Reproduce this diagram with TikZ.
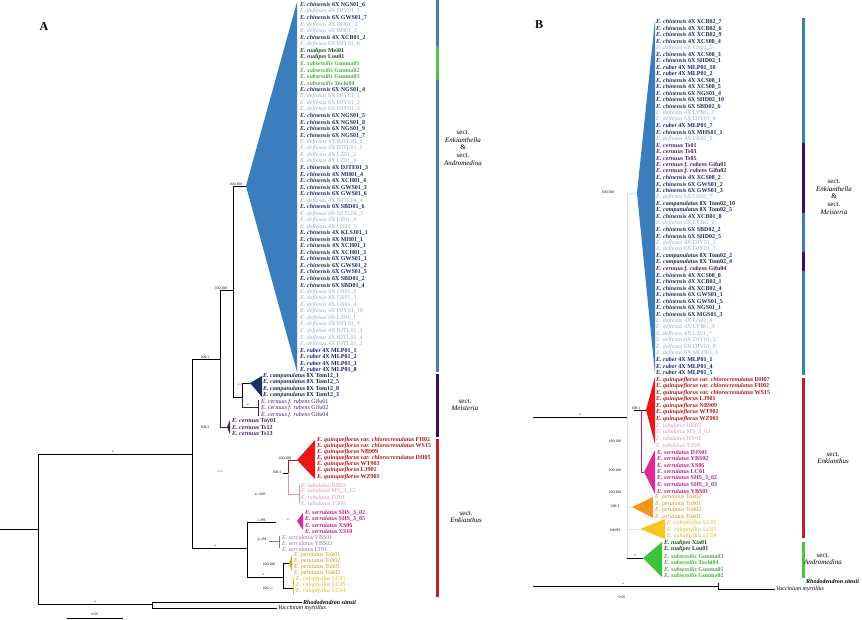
\documentclass[tikz,border=0pt]{standalone}
\usepackage{fontspec}
\setmainfont{Liberation Serif}
\usetikzlibrary{positioning}

% label colours
\definecolor{cnC}{RGB}{28,42,98}
\definecolor{dfC}{RGB}{150,172,200}
\definecolor{rbC}{RGB}{22,26,125}
\definecolor{ndC}{RGB}{25,75,25}
\definecolor{ssC}{RGB}{70,175,60}
\definecolor{ceC}{RGB}{60,28,105}
\definecolor{cpC}{RGB}{25,35,75}
\definecolor{qfC}{RGB}{175,20,25}
\definecolor{tbC}{RGB}{215,150,180}
\definecolor{srC}{RGB}{185,30,135}
\definecolor{slC}{RGB}{150,110,165}
\definecolor{peC}{RGB}{200,150,0}
\definecolor{poC}{RGB}{215,140,20}
\definecolor{caC}{RGB}{220,182,30}
% clade colours
\definecolor{blueT}{RGB}{58,126,189}
\definecolor{navyT}{RGB}{25,50,95}
\definecolor{redT}{RGB}{236,22,22}
\definecolor{magT}{RGB}{226,40,150}
\definecolor{goldT}{RGB}{215,170,30}
\definecolor{orT}{RGB}{245,150,30}
\definecolor{yeT}{RGB}{248,196,30}
\definecolor{grT}{RGB}{60,195,60}
% section bars
\definecolor{barB}{RGB}{64,128,168}
\definecolor{barG}{RGB}{85,190,70}
\definecolor{barP}{RGB}{55,15,100}
\definecolor{barR}{RGB}{190,30,40}

\newcommand{\enk}[2]{\textit{E.~#1}~#2}
\newcommand{\gcn}{\color{cnC}\bfseries}
\newcommand{\gdf}{\color{dfC}}
\newcommand{\grb}{\color{rbC}\bfseries}
\newcommand{\gnd}{\color{ndC}\bfseries}
\newcommand{\gss}{\color{ssC}\bfseries}
\newcommand{\gce}{\color{ceC}\bfseries}
\newcommand{\gcp}{\color{cpC}\bfseries}

\begin{document}
\begin{tikzpicture}[
  x=1pt, y=-1pt,
  taxon/.style={anchor=west, inner sep=0pt, font=\fontsize{6}{6}\selectfont},
  branch/.style={line width=0.7pt},
  faint/.style={line width=0.5pt, black!12},
  supp/.style={anchor=south, inner sep=0.4pt, font=\fontsize{3.8}{4}\selectfont},
  bar/.style={line width=3pt},
  sect/.style={align=center, font=\fontsize{7}{7.6}\selectfont},
  panel/.style={font=\fontsize{12}{12}\selectfont\bfseries}
]
\useasboundingbox (0,0) rectangle (862,619);

% Panel labels
\node[panel] (pA) at (44,27) {A};
\node[panel] (pB) at (539,25) {B};

%%%%%%%%%%%%%%%% Panel A %%%%%%%%%%%%%%%%

% Collapsed clades
\fill[blueT] (246,186) -- (297,2) -- (297,372) -- cycle;
\fill[navyT] (250,383) -- (262,376) -- (262,397) -- cycle;
\fill[ceC] (227,427) -- (230,420) -- (230,434) -- cycle;
\fill[redT] (297,460) -- (315,440) -- (315,479) -- cycle;
\fill[magT] (297,521) -- (303,513) -- (303,530) -- cycle;
\fill[goldT] (289,563) -- (292,555) -- (292,572) -- cycle;

% Tree nodes
\coordinate (aR) at (0,529);
\coordinate (a1) at (38,529);
\coordinate (a2) at (192,454);
\coordinate (aOg) at (152,604);
\coordinate (a3) at (220,359);
\coordinate (aE) at (247,548);
\coordinate (a4) at (233,290);
\coordinate (aCe) at (227,427);
\coordinate (aBl) at (246,186);
\coordinate (a5) at (242,397);
\coordinate (aCa) at (250,383);
\coordinate (aRu) at (258,407);
\coordinate (aSe) at (276,522);
\coordinate (aPe) at (283,577);
\coordinate (aPe1) at (289,563);
\coordinate (aCal) at (293,588);
\coordinate (aRh) at (302,602);
\coordinate (aVa) at (277,608);
\coordinate (aQs) at (283,473);
\coordinate (aQ) at (288,473);
\coordinate (aQr) at (297,460);
\coordinate (aQt) at (299,494);
\coordinate (aSl0) at (269,541);
\coordinate (aSl) at (279,541);

% Branches
\draw[branch] (aR) -- (a1);
\draw[branch] (a1) |- (a2);
\draw[branch] (a1) |- (aOg);
\draw[branch] (a2) |- (a3);
\draw[branch] (a2) |- (aE);
\draw[branch] (a3) |- (a4);
\draw[branch, ceC] (a3) |- (aCe);
\draw[branch] (a4) |- (aBl);
\draw[branch] (a4) |- (a5);
\draw[branch] (a5) |- (aCa);
\draw[branch, ceC] (a5) |- (aRu);
\draw[branch, ceC] (258,400) -- (258,416);
\draw[branch] (aE) |- (aSe);
\draw[branch] (aE) |- (aPe);
\draw[branch] (aPe) |- (aPe1);
\draw[branch] (aPe) |- (aCal);
\draw[branch, caC] (293,578) -- (293,594);
\draw[branch] (aOg) |- (aRh);
\draw[branch] (aOg) |- (aVa);
\draw[branch] (aQs) -- (aQ);
\draw[branch, qfC] (aQ) |- (aQr);
\draw[branch, tbC] (aQ) |- (aQt);
\draw[branch, tbC] (299,485) -- (299,503);
\draw[branch, slC] (aSl0) -- (aSl);
\draw[branch, slC] (aSl) ++(0,-5) -- ++(0,12);

% Support values
\node[supp] (sa1) at (113,454) {*};
\node[supp] (sa2) at (95,604) {*};
\node[supp] (sa3) at (205,359) {100/1};
\node[supp] (sa4) at (221,290) {100/100};
\node[supp] (sa5) at (236,186) {100/100};
\node[supp] (sa6) at (220,473) {-/-/-};
\node[supp] (sa7) at (205,429) {100/1};
\node[supp] (sa8) at (215,548) {*};
\node[supp] (sa9) at (240,386) {-/-/-};
\node[supp] (sa10) at (248,407) {*};
\node[supp] (sa11) at (285,460) {100/100};
\node[supp] (sa12) at (277,474) {100/1};
\node[supp] (sa13) at (260,496) {x/-/100};
\node[supp] (sa14) at (261,522) {-/-/99};
\node[supp] (sa15) at (288,522) {*};
\node[supp] (sa16) at (262,541) {x/-/94};
\node[supp] (sa17) at (269,566) {100/100};
\node[supp] (sa18) at (263,577) {*};
\node[supp] (sa19) at (268,590) {100/-/-};

% Scale bar
\draw[branch] (67,618) coordinate (sbA0) -- (123,618) coordinate (sbA1);
\node[supp] (sbA) at (95,616) {0.05};

% Taxa of the blue clade (top to bottom)
\foreach [count=\k] \cd/\st/\sn in {
  \gcn/chinensis/6X NGS01\_6, \gdf/deflexus/4X DJY01\_5, \gcn/chinensis/6X GWS01\_7,
  \gdf/deflexus/4X BH01\_3, \gdf/deflexus/4X BH01\_2, \gcn/chinensis/4X XCB01\_2,
  \gdf/deflexus/6X DJY01\_6, \gnd/nudipes/Mei01, \gnd/nudipes/Lou01,
  \gss/subsessilis/Gunma01, \gss/subsessilis/Gunma02, \gss/subsessilis/Gunma03,
  \gss/subsessilis/Tochi04, \gcn/chinensis/6X NGS01\_4, \gdf/deflexus/6X DJY01\_1,
  \gdf/deflexus/6X DJY01\_2, \gdf/deflexus/6X DJY01\_3, \gcn/chinensis/6X NGS01\_5,
  \gcn/chinensis/6X NGS01\_8, \gcn/chinensis/6X NGS01\_9, \gcn/chinensis/6X NGS01\_7,
  \gdf/deflexus/4X BJTL01\_1, \gdf/deflexus/4X BJTL01\_5, \gdf/deflexus/4X LZ01\_2,
  \gdf/deflexus/4X LZ01\_3, \gcn/chinensis/4X DJTE01\_3, \gcn/chinensis/4X MH01\_4,
  \gcn/chinensis/4X XCH01\_4, \gcn/chinensis/6X GWS01\_3, \gcn/chinensis/6X GWS01\_6,
  \gdf/deflexus/4X NJTL04\_4, \gcn/chinensis/6X SBD01\_6, \gdf/deflexus/4X NJTL04\_3,
  \gdf/deflexus/4X LZ01\_4, \gdf/deflexus/4X GS01\_1, \gcn/chinensis/4X KLSJ01\_1,
  \gcn/chinensis/4X MH01\_1, \gcn/chinensis/4X XCH01\_1, \gcn/chinensis/4X XCH01\_3,
  \gcn/chinensis/6X GWS01\_1, \gcn/chinensis/6X GWS01\_2, \gcn/chinensis/6X GWS01\_5,
  \gcn/chinensis/6X SBD01\_2, \gcn/chinensis/6X SBD01\_4, \gdf/deflexus/4X GS01\_2,
  \gdf/deflexus/4X GS01\_3, \gdf/deflexus/4X GS01\_4, \gdf/deflexus/4X DJY01\_10,
  \gdf/deflexus/4X LZ01\_1, \gdf/deflexus/4X DJY01\_9, \gdf/deflexus/4X BJTL01\_2,
  \gdf/deflexus/4X BJTL01\_4, \gdf/deflexus/4X BJTL01\_3, \grb/ruber/4X MLP01\_1,
  \grb/ruber/4X MLP01\_2, \grb/ruber/4X MLP01\_3, \grb/ruber/4X MLP01\_8}
  \node[taxon] (ab\k) at (300,{5+6.52*(\k-1)}) {\cd\enk{\st}{\sn}};

% Taxa of the small clades
\foreach [count=\k] \sn in {Tom12\_1, Tom12\_5, Tom12\_8, Tom12\_3}
  \node[taxon] (acp\k) at (263,{376+6.5*(\k-1)}) {\gcp\enk{campanulatus}{8X \sn}};
\foreach [count=\k] \sn in {Gifu01, Gifu02, Gifu04}
  \node[taxon] (aru\k) at (261,{402+6.3*(\k-1)}) {\color{ceC}\enk{cernuus f. rubens}{\sn}};
\foreach [count=\k] \sn in {Toy01, Ts12, Ts13}
  \node[taxon] (ace\k) at (232,{421+6.2*(\k-1)}) {\gce\enk{cernuus}{\sn}};
\foreach [count=\k] \st/\sn in {quinqueflorus var. chlorocrenulatus/FH02,
  quinqueflorus var. chlorocrenulatus/WS15, quinqueflorus/NB909,
  quinqueflorus var. chlorocrenulatus/DH05, quinqueflorus/WT903,
  quinqueflorus/LJ901, quinqueflorus/WZ901}
  \node[taxon] (aqf\k) at (317,{440+6.1*(\k-1)}) {\color{qfC}\bfseries\enk{\st}{\sn}};
\foreach [count=\k] \sn in {HB03, MS\_3\_12, DJ10, YS06}
  \node[taxon] (atb\k) at (301,{485+6*(\k-1)}) {\color{tbC}\enk{tubulatus}{\sn}};
\foreach [count=\k] \sn in {SHS\_3\_02, SHS\_3\_05, XS06, XS10}
  \node[taxon] (asr\k) at (305,{513+6*(\k-1)}) {\color{srC}\bfseries\enk{serrulatus}{\sn}};
\foreach [count=\k] \sn in {YBS01, YBS02, LT01}
  \node[taxon] (asl\k) at (282,{537+6.3*(\k-1)}) {\color{slC}\enk{serrulatus}{\sn}};
\foreach [count=\k] \sn in {Tok01, Toh02, Toh01, Tok02}
  \node[taxon] (ape\k) at (294,{555+6*(\k-1)}) {\color{peC}\enk{perulatus}{\sn}};
\foreach [count=\k] \sn in {LC01, LC05, LC04}
  \node[taxon] (aca\k) at (296,{579+6*(\k-1)}) {\color{caC}\enk{calophyllus}{\sn}};

% Outgroups
\node[taxon, right=1pt of aRh] (aRhT) {\bfseries\textit{Rhododendron simsii}};
\node[taxon, right=1pt of aVa] (aVaT) {\textit{Vaccinium myrtillus}};

% Section bars
\draw[bar, barB] (437,0) coordinate (ba0) -- (437,46) coordinate (ba1);
\draw[bar, barG] (ba1) -- (437,80) coordinate (ba2);
\draw[bar, barB] (ba2) -- (437,372) coordinate (ba3);
\draw[bar, barP] (437,374) coordinate (ba4) -- (437,437) coordinate (ba5);
\draw[bar, barR] (437,439) coordinate (ba6) -- (437,597) coordinate (ba7);

\node[sect] (secA1) at (463,148) {sect.\\\textit{Enkianthella}\\\&\\sect.\\\textit{Andromedina}};
\node[sect] (secA2) at (465,405) {sect.\\\textit{Meisteria}};
\node[sect] (secA3) at (466,517) {sect.\\\textit{Enkianthus}};

%%%%%%%%%%%%%%%% Panel B %%%%%%%%%%%%%%%%

% Collapsed clades
\fill[blueT] (637,193) -- (655,20) -- (655,374) -- cycle;
\fill[redT] (646,410) -- (655,377) -- (655,444) -- cycle;
\fill[magT] (644,472) -- (655,450) -- (655,494) -- cycle;
\fill[orT] (632,507) -- (653,497) -- (653,518) -- cycle;
\fill[yeT] (640,529) -- (665,519) -- (665,539) -- cycle;
\fill[grT] (643,558) -- (662,542) -- (662,577) -- cycle;

% Tree nodes
\coordinate (bR) at (533,417);
\coordinate (bI) at (627,417);
\coordinate (bOr) at (533,586);
\coordinate (bO) at (718,586);
\coordinate (bVa) at (775,589);
\coordinate (bBl) at (637,193);
\coordinate (bGr0) at (627,558);
\coordinate (bGr) at (643,558);
\coordinate (bM) at (641,410);
\coordinate (bQs) at (634,410);
\coordinate (bQ) at (646,410);
\coordinate (bS) at (644,472);
\coordinate (bPe) at (632,507);
\coordinate (bCa) at (640,529);

% Branches
\draw[faint] (bI) |- (bBl);
\draw[faint] (bI) -- (bGr0);
\draw[faint] (627,507) -- (bPe);
\draw[faint] (627,529) -- (bCa);
\draw[branch] (bR) -- (bI);
\draw[branch] (bOr) -- (bO);
\draw[branch] (bO) |- (bVa);
\draw[branch] (bO) -- ++(0,-3);
\draw[branch] (bGr0) -- (bGr);
\draw[branch] (bQs) -- (bQ);
\draw[branch, srC] (bM) |- (bS);

% Support values
\node[supp] (sb1) at (608,194) {100/100};
\node[supp] (sb2) at (580,417) {*};
\node[supp] (sb3) at (636,410) {100/1};
\node[supp] (sb4) at (615,443) {100/100};
\node[supp] (sb5) at (615,472) {100/100};
\node[supp] (sb6) at (615,494) {100/100};
\node[supp] (sb7) at (615,508) {100/1};
\node[supp] (sb8) at (615,532) {100/99};
\node[supp] (sb9) at (635,558) {*};
\node[supp] (sb10) at (623,586) {*};
\node[supp] (sbB) at (622,599) {0.05};

% Taxa of the blue clade (top to bottom)
\foreach [count=\k] \cd/\st/\sn in {
  \gcn/chinensis/4X XCB02\_7, \gcn/chinensis/4X XCB02\_6, \gcn/chinensis/4X XCB02\_9,
  \gcn/chinensis/4X XCS08\_4, \gdf/deflexus/4X GS01\_5, \gcn/chinensis/4X XCS08\_3,
  \gcn/chinensis/6X SHD02\_1, \grb/ruber/4X MLP01\_10, \grb/ruber/4X MLP01\_2,
  \gcn/chinensis/4X XCS08\_1, \gcn/chinensis/4X XCS08\_5, \gcn/chinensis/6X NGS01\_4,
  \gcn/chinensis/6X SHD02\_10, \gcn/chinensis/6X SBD02\_6, \gdf/deflexus/4X LYBG\_1,
  \gdf/deflexus/6X DJY01\_4, \grb/ruber/4X MLP01\_7, \gcn/chinensis/6X MHS01\_1,
  \gdf/deflexus/4X GS01\_6, \gce/cernuus/Ts01, \gce/cernuus/Ts03,
  \gce/cernuus/Ts05, \gce/cernuus f. rubens/Gifu01, \gce/cernuus f. rubens/Gifu02,
  \gcn/chinensis/4X XCS08\_2, \gcn/chinensis/6X GWS01\_2, \gcn/chinensis/6X GWS01\_3,
  \gdf/deflexus/6X GS01\_7, \gcp/campanulatus/8X Tom02\_10, \gcp/campanulatus/8X Tom02\_5,
  \gcn/chinensis/4X XCB01\_8, \gdf/deflexus/4X LYBG\_2, \gcn/chinensis/6X SBD02\_2,
  \gcn/chinensis/6X SHD02\_5, \gdf/deflexus/4X DJY01\_1, \gdf/deflexus/6X DJY01\_7,
  \gcp/campanulatus/8X Tom02\_2, \gcp/campanulatus/8X Tom02\_4, \gce/cernuus f. rubens/Gifu04,
  \gcn/chinensis/4X XCS08\_8, \gcn/chinensis/4X XCB02\_1, \gcn/chinensis/4X XCB02\_4,
  \gcn/chinensis/6X GWS01\_1, \gcn/chinensis/6X GWS01\_5, \gcn/chinensis/6X NGS01\_1,
  \gcn/chinensis/6X MGS01\_3, \gdf/deflexus/4X GS01\_4, \gdf/deflexus/4X LYBG\_3,
  \gdf/deflexus/4X LZ01\_7, \gdf/deflexus/6X DJY01\_5, \gdf/deflexus/6X DJY01\_8,
  \gdf/deflexus/6X MLH01\_1, \grb/ruber/4X MLP01\_1, \grb/ruber/4X MLP01\_4,
  \grb/ruber/4X MLP01\_5}
  \node[taxon] (bb\k) at (656,{22+6.5*(\k-1)}) {\cd\enk{\st}{\sn}};

% Taxa of the coloured clades
\foreach [count=\k] \st/\sn in {quinqueflorus var. chlorocrenulatus/DH07,
  quinqueflorus var. chlorocrenulatus/FH02, quinqueflorus var. chlorocrenulatus/WS15,
  quinqueflorus/LJ901, quinqueflorus/NB909, quinqueflorus/WT902, quinqueflorus/WZ901}
  \node[taxon] (bqf\k) at (656,{380+6.5*(\k-1)}) {\color{qfC}\bfseries\enk{\st}{\sn}};
\foreach [count=\k] \sn in {HB03, MS\_3\_02, HY01, YZ06}
  \node[taxon] (btb\k) at (656,{425.5+6.5*(\k-1)}) {\color{tbC}\enk{tubulatus}{\sn}};
\foreach [count=\k] \sn in {DJS01, YBS02, XS06, LC01, SHS\_3\_02, SHS\_3\_03, YBS01}
  \node[taxon] (bsr\k) at (657,{452+6.5*(\k-1)}) {\color{srC}\bfseries\enk{serrulatus}{\sn}};
\foreach [count=\k] \sn in {Tok02, Toh01, Toh02, Tok01}
  \node[taxon] (bpe\k) at (655,{497.5+6.5*(\k-1)}) {\color{poC}\enk{perulatus}{\sn}};
\foreach [count=\k] \sn in {LC01, LC05, LC04}
  \node[taxon] (bca\k) at (667,{523.5+6.5*(\k-1)}) {\color{caC}\enk{calophyllus}{\sn}};
\foreach [count=\k] \cd/\st/\sn in {\gnd/nudipes/Xia01, \gnd/nudipes/Lou01,
  \gss/subsessilis/Gunma03, \gss/subsessilis/Tochi04, \gss/subsessilis/Gunma01,
  \gss/subsessilis/Gunma02}
  \node[taxon] (bss\k) at (664,{543+6.5*(\k-1)}) {\cd\enk{\st}{\sn}};

% Outgroups
\node[taxon, right=1pt of bVa] (bVaT) {\textit{Vaccinium myrtillus}};
\node[taxon] (bRhT) at (806,581) {\bfseries\textit{Rhododendron simsii}};

% Section bars
\draw[bar, barB] (803,18) coordinate (bb0) -- (803,143) coordinate (bbar1);
\draw[bar, barP] (bbar1) -- (803,213) coordinate (bbar2);
\draw[bar, barB] (bbar2) -- (803,252) coordinate (bbar3);
\draw[bar, barP] (bbar3) -- (803,271) coordinate (bbar4);
\draw[bar, barB] (bbar4) -- (803,375) coordinate (bbar5);
\draw[bar, barR] (803,378) coordinate (bbar6) -- (803,538) coordinate (bbar7);
\draw[bar, barG] (803,542) coordinate (bbar8) -- (803,578) coordinate (bbar9);

\node[sect] (secB1) at (834,197) {sect.\\\textit{Enkianthella}\\\&\\sect.\\\textit{Meisteria}};
\node[sect] (secB2) at (833,458) {sect.\\\textit{Enkianthus}};
\node[sect] (secB3) at (823,559) {sect.\\\textit{Andromedina}};

\end{tikzpicture}
\end{document}
